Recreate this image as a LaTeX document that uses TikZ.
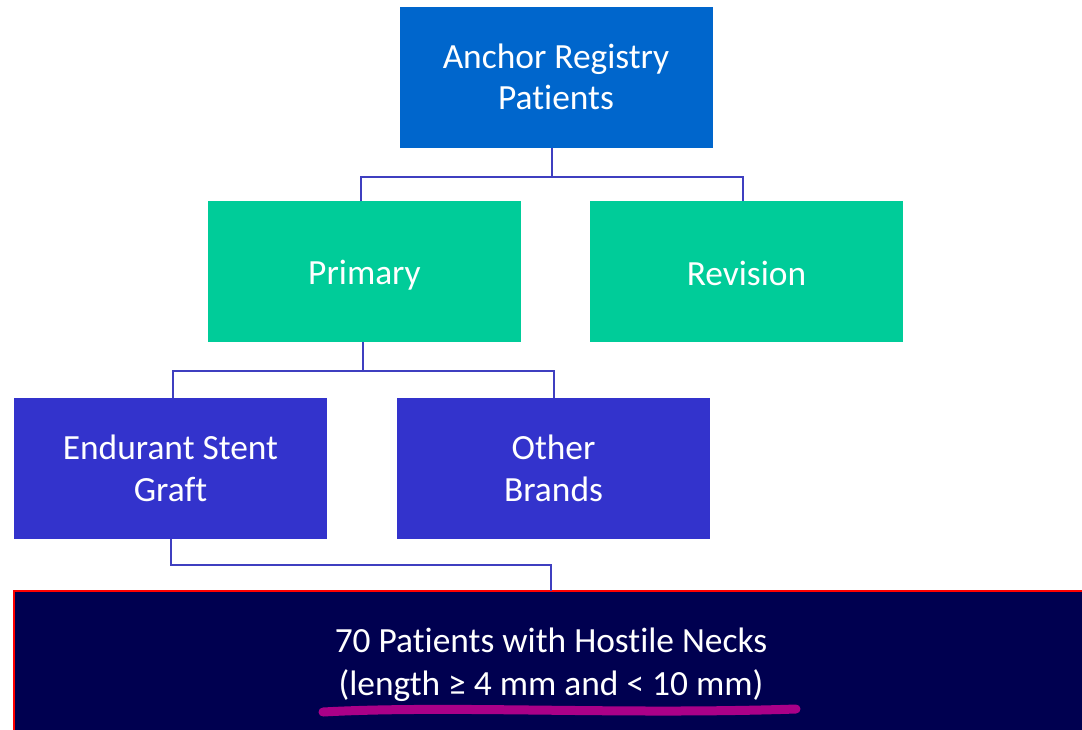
\documentclass[tikz,border=0pt]{standalone}
\usepackage{fontspec}
\setmainfont{Carlito}[Ligatures={NoCommon,NoRare,NoContextual},RawFeature={-calt}]
\begin{document}
\begin{tikzpicture}[x=1pt,y=-1pt,
  box/.style={draw=none,minimum width=313pt,minimum height=141pt,text=white,align=center,font=\fontsize{35.4}{41.5}\selectfont,inner sep=0pt},
  link/.style={draw={rgb,255:red,63;green,63;blue,192},line width=2pt}]
\definecolor{topblue}{RGB}{0,102,204}
\definecolor{teal}{RGB}{0,204,153}
\definecolor{violet}{RGB}{51,51,204}
\definecolor{navy}{RGB}{0,0,80}
\definecolor{mag}{RGB}{170,0,136}
\useasboundingbox (0,0) rectangle (1082,729);
\node[box,fill=topblue] (top) at (556,77) {Anchor Registry\\Patients};
\node[box,fill=teal] (prim) at (364.5,271.5) {\raisebox{-3.5pt}[\height][\depth]{Primary}};
\node[box,fill=teal] (rev) at (746.5,271.5) {\raisebox{-1.5pt}[\height][\depth]{Revision}};
\node[box,fill=violet] (end) at (170.5,468.5) {Endurant Stent\\Graft};
\node[box,fill=violet] (oth) at (553.5,468.5) {Other\\Brands};
\fill[navy] (14,591) rectangle (1090,735);
\draw[red,line width=1.5pt] (14,735) -- (14,591) -- (1090,591);
\node[text=white,align=center,font=\fontsize{35.4}{43}\selectfont,inner sep=0pt] (bot) at (551,665) {70 Patients with Hostile Necks\\(length ≥ 4 mm and < 10 mm)};
\coordinate (botin) at (551,591);
\draw[link] (top.south -| 552,0) |- (361,177) -- (361,201);
\draw[link] (552,177) -| (743,201);
\draw[link] (prim.south -| 363,0) |- (173,371) -- (173,398);
\draw[link] (363,371) -| (554,398);
\draw[link] (end.south -| 171,0) |- (551,565) -- (botin);
\draw[mag,line width=9pt,line cap=round] (323,712) .. controls (450,705) and (620,715) .. (796,709);
\end{tikzpicture}
\end{document}
